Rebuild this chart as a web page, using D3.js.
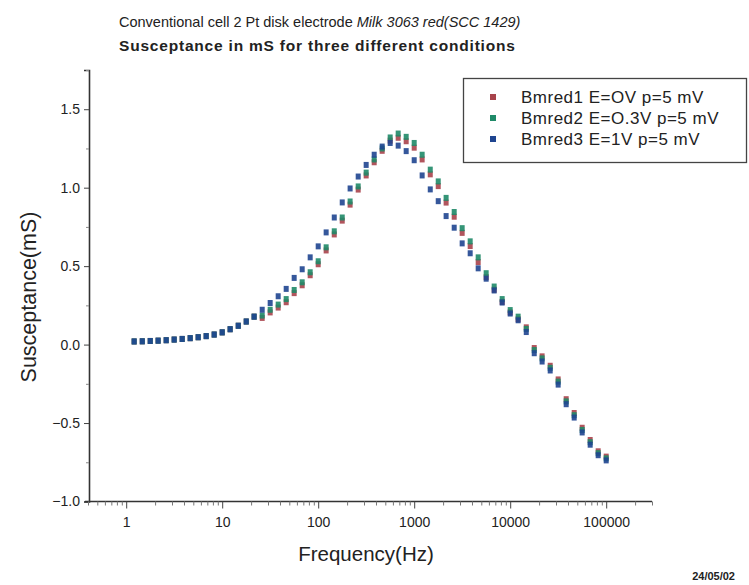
<!DOCTYPE html>
<html>
<head>
<meta charset="utf-8">
<script src="https://cdn.jsdelivr.net/npm/d3@7"></script>
<style>
  body { margin: 0; background: #fff; }
  svg { display: block; }
  text { font-family: "Liberation Sans", Arial, sans-serif; fill: #222; }
</style>
</head>
<body>
<svg id="chart" width="749" height="585"></svg>
<script>
// Measurement frequencies (Hz), 12 per decade
const frequencies = [
  1.21, 1.47, 1.78, 2.15, 2.61, 3.16, 3.83, 4.64, 5.62, 6.81, 8.25, 10,
  12.1, 14.7, 17.8, 21.5, 26.1, 31.6, 38.3, 46.4, 56.2, 68.1, 82.5, 100,
  121, 147, 178, 215, 261, 316, 383, 464, 562, 681, 825, 1000,
  1210, 1470, 1780, 2150, 2610, 3160, 3830, 4640, 5620, 6810, 8250, 10000,
  12100, 14700, 17800, 21500, 26100, 31600, 38300, 46400, 56200, 68100, 82500, 100000
];

// Susceptance (mS) for each condition
const bmred1 = [
  0.020, 0.021, 0.023, 0.025, 0.028, 0.032, 0.036, 0.041, 0.047, 0.054, 0.064, 0.078,
  0.098, 0.120, 0.147, 0.178, 0.170, 0.205, 0.236, 0.270, 0.328, 0.378, 0.442, 0.512,
  0.600, 0.702, 0.790, 0.892, 0.988, 1.078, 1.162, 1.235, 1.300, 1.318, 1.296, 1.255,
  1.180, 1.085, 1.010, 0.905, 0.815, 0.712, 0.628, 0.526, 0.430, 0.350, 0.272, 0.205,
  0.162, 0.110, -0.022, -0.075, -0.135, -0.222, -0.348, -0.436, -0.530, -0.608, -0.680, -0.714
];
const bmred2 = [
  0.020, 0.021, 0.023, 0.025, 0.028, 0.032, 0.036, 0.041, 0.047, 0.054, 0.064, 0.078,
  0.098, 0.120, 0.147, 0.178, 0.185, 0.222, 0.255, 0.290, 0.348, 0.397, 0.461, 0.531,
  0.620, 0.722, 0.810, 0.912, 1.008, 1.096, 1.180, 1.250, 1.320, 1.345, 1.324, 1.285,
  1.210, 1.115, 1.040, 0.935, 0.845, 0.742, 0.658, 0.556, 0.455, 0.370, 0.290, 0.220,
  0.178, 0.100, -0.035, -0.088, -0.148, -0.236, -0.362, -0.450, -0.544, -0.622, -0.692, -0.725
];
const bmred3 = [
  0.020, 0.021, 0.023, 0.025, 0.028, 0.032, 0.036, 0.041, 0.047, 0.054, 0.064, 0.078,
  0.098, 0.120, 0.147, 0.178, 0.222, 0.265, 0.308, 0.355, 0.425, 0.480, 0.556, 0.626,
  0.715, 0.810, 0.906, 0.995, 1.071, 1.145, 1.210, 1.262, 1.285, 1.268, 1.233, 1.175,
  1.078, 0.989, 0.914, 0.819, 0.745, 0.645, 0.582, 0.486, 0.420, 0.345, 0.268, 0.198,
  0.155, 0.080, -0.055, -0.108, -0.165, -0.255, -0.380, -0.465, -0.560, -0.638, -0.705, -0.738
];

const seriesNames = ["Bmred1 E=OV p=5 mV", "Bmred2 E=O.3V p=5 mV", "Bmred3 E=1V p=5 mV"];
const seriesColors = ["#a8434b", "#1f8a68", "#1f4590"];

const yMajorTicks = [-1.0, -0.5, 0.0, 0.5, 1.0, 1.5];
const yMinorTicks = [-0.75, -0.25, 0.25, 0.75, 1.25, 1.75];
const xMajorTicks = [1, 10, 100, 1000, 10000, 100000];

const svg = d3.select("#chart");

const x = d3.scaleLog().domain([0.4, 3e5]).range([88, 652]);
const y = d3.scaleLinear().domain([-1, 1.75]).range([501.5, 70]);

// Titles
const t1 = svg.append("text").attr("x", 119).attr("y", 27).style("font-size", "14.5px");
t1.append("tspan").text("Conventional cell 2 Pt disk electrode ");
t1.append("tspan").style("font-style", "italic").text("Milk 3063 red(SCC 1429)");
svg.append("text").attr("x", 119).attr("y", 51)
  .style("font-size", "15.5px").style("font-weight", "bold")
  .style("letter-spacing", "0.8px")
  .text("Susceptance in mS for three different conditions");

// Minor x ticks: 2..9 within every decade, plus the partial decades at each end
const xMinorTicks = [];
[0.1, 1, 10, 100, 1000, 10000, 100000].forEach(dec => {
  for (let m = 2; m <= 9; m++) {
    const v = dec * m;
    if (v >= 0.4 && v <= 3e5) xMinorTicks.push(v);
  }
});

// Y axis
const yAxisG = svg.append("g").attr("transform", `translate(${x.range()[0] + 1},0)`);
yAxisG.call(d3.axisLeft(y).tickValues(yMajorTicks).tickSize(5).tickPadding(4)
  .tickFormat(d3.format(".1f")));
svg.append("g").attr("transform", `translate(${x.range()[0] + 1},0)`)
  .call(d3.axisLeft(y).tickValues(yMinorTicks).tickSize(3).tickFormat(""))
  .call(g => g.select(".domain").remove())
  .selectAll("line").attr("stroke", "#888");

// X axis
const xAxisG = svg.append("g").attr("transform", `translate(0,${y.range()[0]})`);
xAxisG.call(d3.axisBottom(x).tickValues(xMajorTicks).tickSize(7).tickPadding(9)
  .tickFormat(d3.format("d")));
svg.append("g").attr("transform", `translate(0,${y.range()[0]})`)
  .call(d3.axisBottom(x).tickValues(xMinorTicks).tickSize(4).tickFormat(""))
  .call(g => g.select(".domain").remove())
  .selectAll("line").attr("stroke", "#777");

[yAxisG, xAxisG].forEach(g => {
  g.select(".domain").attr("stroke", "#333").attr("stroke-width", 1.6);
  g.selectAll(".tick line").attr("stroke", "#444");
  g.selectAll(".tick text").style("font-size", "14px").attr("fill", "#222");
});
xAxisG.select(".domain").attr("d", `M${x.range()[0] - 3},0H${x.range()[1]}`);

// Axis titles
svg.append("text")
  .attr("transform", "translate(36,297) rotate(-90)")
  .attr("text-anchor", "middle")
  .style("font-size", "21.5px")
  .text("Susceptance(mS)");
svg.append("text")
  .attr("x", 366).attr("y", 561)
  .attr("text-anchor", "middle")
  .style("font-size", "20.5px")
  .text("Frequency(Hz)");

// Date stamp
svg.append("text").attr("x", 735).attr("y", 580).attr("text-anchor", "end")
  .style("font-size", "11px").style("font-weight", "bold")
  .text("24/05/02");

// Data points
const series = [bmred1, bmred2, bmred3];
const plot = svg.append("g");
series.forEach((vals, i) => {
  plot.append("g").selectAll("rect")
    .data(frequencies.map((f, k) => ({ f, v: vals[k] })))
    .join("rect")
    .attr("x", d => x(d.f) - 2.5)
    .attr("y", d => y(d.v) - 3)
    .attr("width", 5)
    .attr("height", 6)
    .attr("fill", seriesColors[i])
    .attr("fill-opacity", 0.9);
});

// Legend
const legend = svg.append("g");
legend.append("rect")
  .attr("x", 463.5).attr("y", 78.5).attr("width", 283).attr("height", 84)
  .attr("fill", "#fff").attr("stroke", "#444").attr("stroke-width", 1.3);
seriesNames.forEach((name, i) => {
  const cy = 97 + i * 21;
  legend.append("rect").attr("x", 490).attr("y", cy - 3).attr("width", 6).attr("height", 6)
    .attr("fill", seriesColors[i]);
  legend.append("text").attr("x", 521).attr("y", cy + 6)
    .style("font-size", "17px").style("letter-spacing", "0.5px").text(name);
});
</script>
</body>
</html>
